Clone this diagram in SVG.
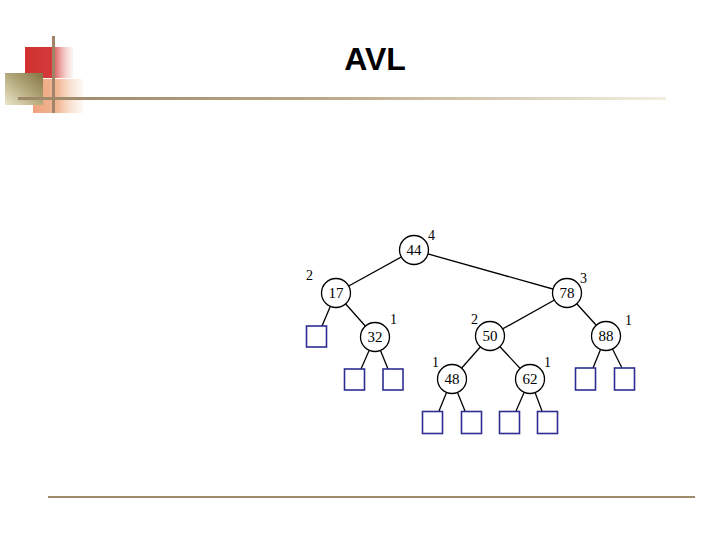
<svg xmlns="http://www.w3.org/2000/svg" width="720" height="540" viewBox="0 0 720 540">
<defs>
<linearGradient id="redG" x1="0" y1="0" x2="1" y2="0"><stop offset="0" stop-color="#d13030"/><stop offset="0.55" stop-color="#d43a3a"/><stop offset="1" stop-color="#f6e0d8" stop-opacity="0.3"/></linearGradient>
<linearGradient id="oliveG" x1="0" y1="1" x2="1" y2="0"><stop offset="0" stop-color="#ece6cc"/><stop offset="0.5" stop-color="#b4aa7c"/><stop offset="1" stop-color="#857444"/></linearGradient>
<linearGradient id="peachG" x1="0" y1="0" x2="1" y2="0"><stop offset="0" stop-color="#eea27c"/><stop offset="0.5" stop-color="#f2b896"/><stop offset="1" stop-color="#fbeee2" stop-opacity="0.4"/></linearGradient>
<linearGradient id="lineG" x1="0" y1="0" x2="1" y2="0"><stop offset="0" stop-color="#9c8668"/><stop offset="0.45" stop-color="#b8a684"/><stop offset="1" stop-color="#f2eee0"/></linearGradient>
<style>
.edge{stroke:#000;stroke-width:1.3;fill:none}
.nd circle{fill:#fff;stroke:#000;stroke-width:1.3}
.nd text{font-family:"Liberation Serif",serif;font-size:15px;text-anchor:middle}
.leaf{fill:#fff;stroke:#2e2e92;stroke-width:1.6}
.bal{font-family:"Liberation Serif",serif;font-size:14px}
</style>
</defs>
<rect width="720" height="540" fill="#fff"/>
<g id="logo">
<rect x="33" y="79" width="50" height="34" fill="url(#peachG)"/>
<rect x="25" y="47" width="48" height="31" fill="url(#redG)"/>
<rect x="5" y="73" width="38" height="32" fill="url(#oliveG)"/>
<rect x="52" y="36" width="3" height="77" fill="#a08468"/>
<rect x="18" y="97" width="648" height="3" fill="url(#lineG)"/>
</g>
<text x="375" y="70" font-family="Liberation Sans, Arial, sans-serif" font-size="32" font-weight="bold" text-anchor="middle">AVL</text>
<g id="connectors">
<line class="edge" x1="414" y1="250" x2="336" y2="293"/>
<line class="edge" x1="414" y1="250" x2="567" y2="293"/>
<line class="edge" x1="336" y1="293" x2="322" y2="326"/>
<line class="edge" x1="336" y1="293" x2="375" y2="337"/>
<line class="edge" x1="375" y1="337" x2="361" y2="369"/>
<line class="edge" x1="375" y1="337" x2="388" y2="369"/>
<line class="edge" x1="567" y1="293" x2="490" y2="336"/>
<line class="edge" x1="567" y1="293" x2="606" y2="336"/>
<line class="edge" x1="490" y1="336" x2="452" y2="379"/>
<line class="edge" x1="490" y1="336" x2="530" y2="379"/>
<line class="edge" x1="606" y1="336" x2="593" y2="368"/>
<line class="edge" x1="606" y1="336" x2="622" y2="368"/>
<line class="edge" x1="452" y1="379" x2="439" y2="411"/>
<line class="edge" x1="452" y1="379" x2="465" y2="411"/>
<line class="edge" x1="530" y1="379" x2="516" y2="411"/>
<line class="edge" x1="530" y1="379" x2="542" y2="411"/>
</g>
<g id="n44" class="nd"><circle cx="414" cy="250" r="14.5"/><text x="414" y="255">44</text></g>
<g id="n17" class="nd"><circle cx="336" cy="293" r="14.5"/><text x="336" y="298">17</text></g>
<g id="n32" class="nd"><circle cx="375" cy="337" r="14.5"/><text x="375" y="342">32</text></g>
<g id="n78" class="nd"><circle cx="567" cy="293" r="14.5"/><text x="567" y="298">78</text></g>
<g id="n50" class="nd"><circle cx="490" cy="336" r="14.5"/><text x="490" y="341">50</text></g>
<g id="n88" class="nd"><circle cx="606" cy="336" r="14.5"/><text x="606" y="341">88</text></g>
<g id="n48" class="nd"><circle cx="452" cy="379" r="14.5"/><text x="452" y="384">48</text></g>
<g id="n62" class="nd"><circle cx="530" cy="379" r="14.5"/><text x="530" y="384">62</text></g>
<g id="leaves">
<rect class="leaf" x="306.5" y="326" width="20" height="21"/>
<rect class="leaf" x="344.5" y="369" width="20" height="21"/>
<rect class="leaf" x="383" y="369" width="20" height="21"/>
<rect class="leaf" x="575.5" y="368" width="20" height="22"/>
<rect class="leaf" x="614.5" y="368" width="20" height="22"/>
<rect class="leaf" x="422.5" y="411.5" width="20" height="22"/>
<rect class="leaf" x="461.5" y="411.5" width="20" height="22"/>
<rect class="leaf" x="499.5" y="411.5" width="20" height="22"/>
<rect class="leaf" x="537.5" y="411.5" width="20" height="22"/>
</g>
<g id="balances">
<text class="bal" x="428" y="240">4</text>
<text class="bal" x="306" y="280">2</text>
<text class="bal" x="390" y="324">1</text>
<text class="bal" x="580" y="283">3</text>
<text class="bal" x="471" y="324">2</text>
<text class="bal" x="625" y="325">1</text>
<text class="bal" x="432" y="367">1</text>
<text class="bal" x="544" y="367">1</text>
</g>
<rect x="48" y="496" width="647" height="2" fill="#a08a6c"/>
</svg>
